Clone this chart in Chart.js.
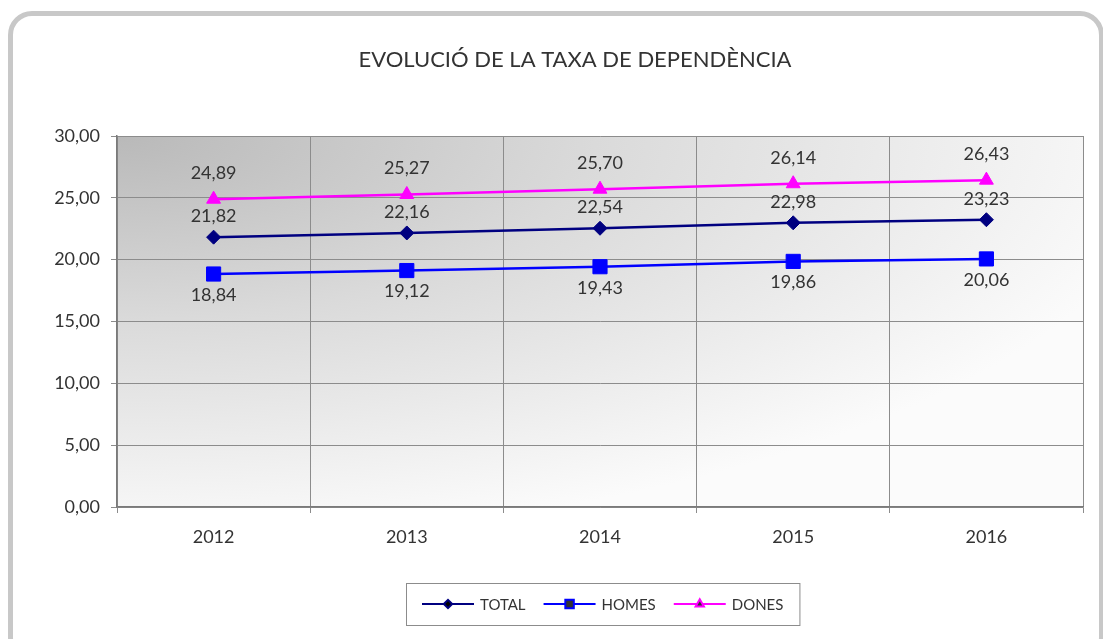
<!DOCTYPE html>
<html>
<head>
<meta charset="utf-8">
<title>Evolució de la taxa de dependència</title>
<script src="https://cdn.jsdelivr.net/npm/chart.js@4"></script>
<style>
  html, body { margin: 0; padding: 0; background: #fff; }
  #wrap { position: relative; width: 1103px; height: 639px; overflow: hidden; }
  #frame { position: absolute; left: 8px; top: 11px; width: 1086px; height: 640px;
           border: 5px solid #c8c8c8; border-radius: 24px; background: #fff; }
  #taxaChart { position: absolute; left: 0; top: 0; }
</style>
</head>
<body>
<div id="wrap">
  <div id="frame"></div>
  <canvas id="taxaChart" width="1103" height="639"></canvas>
</div>
<script>
var anys = ["2012", "2013", "2014", "2015", "2016"];
var total = [21.82, 22.16, 22.54, 22.98, 23.23];
var homes = [18.84, 19.12, 19.43, 19.86, 20.06];
var dones = [24.89, 25.27, 25.70, 26.14, 26.43];
var titol = "EVOLUCIÓ DE LA TAXA DE DEPENDÈNCIA";

var fontFamily = "Lato, 'Liberation Sans', sans-serif";

function fmt(v) {
    return v.toFixed(2).replace(".", ",");
}

// fons del grafic amb degradat des de la cantonada
var fonsPlugin = {
    id: "fons",
    beforeDraw: function (chart) {
        var a = chart.chartArea;
        var ctx = chart.ctx;
        var w = a.right - a.left, h = a.bottom - a.top;
        ctx.save();
        ctx.beginPath();
        ctx.rect(a.left, a.top, w, h);
        ctx.clip();
        ctx.translate(a.left, a.top);
        ctx.scale(1, h / w);
        var g = ctx.createRadialGradient(0, 0, 0, 0, 0, w * 1.1);
        g.addColorStop(0, "#b9b9b9");
        g.addColorStop(0.45, "#dadada");
        g.addColorStop(1, "#fbfbfb");
        ctx.fillStyle = g;
        ctx.fillRect(0, 0, w, w);
        ctx.restore();
    }
};

// titol
var titolPlugin = {
    id: "titol",
    afterDraw: function (chart) {
        var ctx = chart.ctx;
        ctx.save();
        ctx.font = "22px " + fontFamily;
        ctx.fillStyle = "#333333";
        ctx.textAlign = "center";
        ctx.textBaseline = "middle";
        ctx.fillText(titol, 575, 60);
        ctx.restore();
    }
};

// etiquetes de valor
var offsets = [-21, 21, -26];
var etiquetesPlugin = {
    id: "etiquetes",
    afterDatasetsDraw: function (chart) {
        var ctx = chart.ctx;
        ctx.save();
        ctx.font = "18px " + fontFamily;
        ctx.fillStyle = "#333333";
        ctx.textAlign = "center";
        ctx.textBaseline = "middle";
        chart.data.datasets.forEach(function (ds, i) {
            var meta = chart.getDatasetMeta(i);
            meta.data.forEach(function (pt, j) {
                ctx.fillText(fmt(ds.data[j]), pt.x, pt.y + offsets[i]);
            });
        });
        ctx.restore();
    }
};

// llegenda estil Excel (linia + marcador)
var llegendaPlugin = {
    id: "llegenda",
    afterDraw: function (chart) {
        var ctx = chart.ctx;
        var dsets = chart.data.datasets;
        ctx.save();
        ctx.font = "15px " + fontFamily;
        var lineLen = 52, gap = 6, sep = 18, padX = 16;
        var widths = dsets.map(function (d) { return lineLen + gap + ctx.measureText(d.label).width; });
        var totalW = padX * 2 + widths.reduce(function (s, v) { return s + v; }, 0) + sep * (dsets.length - 1);
        var left = Math.round(603 - totalW / 2);
        var top = 583, h = 42;
        ctx.strokeStyle = "#8c8c8c";
        ctx.lineWidth = 1;
        ctx.strokeRect(left + 0.5, top + 0.5, totalW, h);
        var x = left + padX;
        var cy = top + h / 2;
        dsets.forEach(function (d, i) {
            ctx.strokeStyle = d.borderColor;
            ctx.lineWidth = 2;
            ctx.beginPath();
            ctx.moveTo(x, cy);
            ctx.lineTo(x + lineLen, cy);
            ctx.stroke();
            Chart.helpers.drawPoint(ctx, {
                pointStyle: d.pointStyle,
                radius: d.pointRadius * 0.6,
                borderWidth: 1
            }, x + lineLen / 2, cy);
            ctx.fillStyle = "#333333";
            ctx.textAlign = "left";
            ctx.textBaseline = "middle";
            ctx.fillText(d.label, x + lineLen + gap, cy + 1);
            x += widths[i] + sep;
        });
        ctx.restore();
    }
};

var ctx = document.getElementById("taxaChart");
var taxaChart = new Chart(ctx, {
    type: "line",
    data: {
        labels: anys,
        datasets: [
            {
                label: "TOTAL",
                data: total,
                borderColor: "#000080",
                backgroundColor: "#000080",
                borderWidth: 2.5,
                pointStyle: "rectRot",
                pointRadius: 7,
                pointBorderWidth: 1
            },
            {
                label: "HOMES",
                data: homes,
                borderColor: "#0000ff",
                backgroundColor: "#0000ff",
                borderWidth: 2.5,
                pointStyle: "rect",
                pointRadius: 10,
                pointBorderWidth: 1
            },
            {
                label: "DONES",
                data: dones,
                borderColor: "#ff00ff",
                backgroundColor: "#ff00ff",
                borderWidth: 2.5,
                pointStyle: "triangle",
                pointRadius: 8,
                pointBorderWidth: 1
            }
        ]
    },
    options: {
        responsive: false,
        animation: false,
        devicePixelRatio: 1,
        layout: {
            padding: { top: 136, left: 0, right: 20, bottom: 80 }
        },
        plugins: {
            legend: { display: false },
            tooltip: { enabled: false },
            title: { display: false }
        },
        scales: {
            x: {
                offset: true,
                grid: { offset: true, color: "#8c8c8c", tickLength: 6 },
                border: { color: "#7a7a7a", width: 1.5 },
                ticks: { color: "#333333", padding: 13, font: { family: fontFamily, size: 18 } },
                afterFit: function (scale) { scale.height = 52; }
            },
            y: {
                min: 0,
                max: 30,
                ticks: {
                    stepSize: 5,
                    color: "#333333",
                    padding: 11,
                    font: { family: fontFamily, size: 18 },
                    callback: function (v) { return fmt(v); }
                },
                grid: { color: "#8c8c8c", tickLength: 6 },
                border: { color: "#7a7a7a", width: 1.5 },
                afterFit: function (scale) { scale.width = 117; }
            }
        }
    },
    plugins: [fonsPlugin, etiquetesPlugin, titolPlugin, llegendaPlugin]
});
</script>
</body>
</html>
